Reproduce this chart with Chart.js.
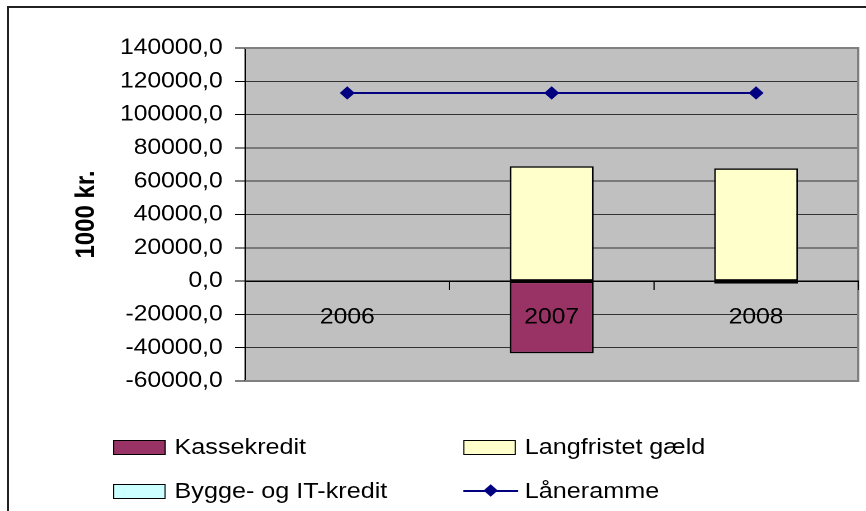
<!DOCTYPE html>
<html>
<head>
<meta charset="utf-8">
<script src="https://cdn.jsdelivr.net/npm/chart.js@4/dist/chart.umd.min.js"></script>
<style>
    html, body { margin: 0; padding: 0; background: #fff; overflow: hidden; }
    body { position: relative; width: 866px; height: 511px; }
    #frame { position: absolute; left: 7px; top: 6px; right: -40px; bottom: -40px; border-top: 2px solid #222; border-left: 2px solid #222; }
    #wrap { position: absolute; left: 0; top: 0; width: 774px; height: 511px; transform: scaleX(1.119); transform-origin: 0 0; }
    #chart { position: absolute; left: 0; top: 0; }
    .legend-item { position: absolute; display: flex; align-items: center; height: 30px; font-family: "Liberation Sans", Arial, sans-serif; font-size: 22.5px; color: #000; white-space: nowrap; }
    .swatch { width: 47px; height: 15px; border: 1.5px solid #000; box-sizing: border-box; margin-right: 8px; }
    .line-mark { position: relative; width: 49px; height: 15px; margin-right: 6px; }
    .line-mark .ln { position: absolute; left: 0; right: 0; top: 6.5px; height: 2px; background: #000080; }
    .line-mark .dm { position: absolute; left: 20px; top: 2px; width: 9px; height: 9px; background: #000080; transform: rotate(45deg); }
</style>
</head>
<body>
<div id="frame"></div>
<div id="wrap">
    <canvas id="chart" width="774" height="511"></canvas>
    <div id="legend"></div>
</div>
<script>
// data (1000 kr.)
const years = ['2006', '2007', '2008'];
const kassekredit = [null, -43300, -1500];
const langfristetGaeld = [null, 69000, 67700];
const byggeItKredit = [null, null, null];
const laaneramme = [113000, 113000, 113000];

const yMin = -60000;
const yMax = 140000;
const yStep = 20000;

const fontFamily = '"Liberation Sans", Arial, sans-serif';

// grey plot area with border on top/right/bottom
const plotArea = {
    id: 'plotArea',
    beforeDraw(chart) {
        const a = chart.chartArea;
        const ctx = chart.ctx;
        ctx.save();
        ctx.fillStyle = '#c0c0c0';
        ctx.fillRect(a.left, a.top, a.right - a.left, a.bottom - a.top);
        ctx.restore();
    },
    beforeDatasetsDraw(chart) {
        const a = chart.chartArea;
        const ctx = chart.ctx;
        ctx.save();
        ctx.strokeStyle = '#808080';
        ctx.lineWidth = 2;
        ctx.beginPath();
        ctx.moveTo(a.left, a.top);
        ctx.lineTo(a.right, a.top);
        ctx.lineTo(a.right, a.bottom);
        ctx.lineTo(a.left, a.bottom);
        ctx.stroke();
        ctx.restore();
    }
};

const chart = new Chart(document.getElementById('chart'), {
    type: 'bar',
    data: {
        labels: years,
        datasets: [
            {
                type: 'line',
                label: 'Låneramme',
                data: laaneramme,
                stack: 'line',
                order: 0,
                borderColor: '#000080',
                borderWidth: 2,
                pointStyle: 'rectRot',
                pointRadius: 6,
                pointBackgroundColor: '#000080',
                pointBorderColor: '#000080',
                pointBorderWidth: 1
            },
            {
                label: 'Kassekredit',
                data: kassekredit,
                stack: 'bars',
                order: 1,
                backgroundColor: '#993366',
                borderColor: '#000',
                borderWidth: 1.5,
                borderSkipped: false
            },
            {
                label: 'Langfristet gæld',
                data: langfristetGaeld,
                stack: 'bars',
                order: 1,
                backgroundColor: '#ffffcc',
                borderColor: '#000',
                borderWidth: 1.5,
                borderSkipped: false
            },
            {
                label: 'Bygge- og IT-kredit',
                data: byggeItKredit,
                stack: 'bars',
                order: 1,
                backgroundColor: '#ccffff',
                borderColor: '#000',
                borderWidth: 1.5,
                borderSkipped: false
            }
        ]
    },
    options: {
        responsive: false,
        devicePixelRatio: 2,
        animation: false,
        events: [],
        datasets: {
            bar: { categoryPercentage: 0.41, barPercentage: 1 }
        },
        layout: {
            padding: { left: 0, top: 48, right: 6, bottom: 130 }
        },
        plugins: {
            legend: { display: false },
            tooltip: { enabled: false }
        },
        scales: {
            x: {
                type: 'category',
                stacked: true,
                position: { y: 0 },
                grid: {
                    drawOnChartArea: false,
                    drawTicks: true,
                    tickLength: 8,
                    color: '#000',
                    offset: true,
                    z: 1
                },
                border: { display: true, color: '#000', width: 1.5, z: 1 },
                ticks: {
                    color: '#000',
                    padding: 15,
                    maxRotation: 0,
                    autoSkip: false,
                    z: 1,
                    font: { family: fontFamily, size: 22 }
                }
            },
            y: {
                stacked: true,
                min: yMin,
                max: yMax,
                afterFit(scale) {
                    scale.width = 219;
                },
                grid: {
                    color: '#333',
                    lineWidth: 1,
                    drawTicks: true,
                    tickLength: 9,
                    tickColor: '#000'
                },
                border: { display: true, color: '#000', width: 1.5 },
                ticks: {
                    stepSize: yStep,
                    color: '#000',
                    padding: 11,
                    font: { family: fontFamily, size: 22 },
                    callback: function(value) {
                        return value.toFixed(1).replace('.', ',');
                    }
                },
                title: {
                    display: true,
                    text: '1000 kr.',
                    color: '#000',
                    padding: { top: 63, bottom: 0 },
                    font: { family: fontFamily, size: 24, weight: 'bold' }
                }
            }
        }
    },
    plugins: [plotArea]
});

// legend in two columns, built from the datasets
const legendOrder = ['Kassekredit', 'Langfristet gæld', 'Bygge- og IT-kredit', 'Låneramme'];
const colLeft = [101, 414];
const rowMid = [447, 491];
const legend = document.getElementById('legend');

legendOrder.forEach(function(name, i) {
    const ds = chart.data.datasets.find(d => d.label === name);
    const item = document.createElement('div');
    item.className = 'legend-item';
    item.style.left = colLeft[i % 2] + 'px';
    item.style.top = (rowMid[Math.floor(i / 2)] - 15) + 'px';

    let mark;
    if (ds.type === 'line') {
        mark = document.createElement('div');
        mark.className = 'line-mark';
        mark.innerHTML = '<div class="ln"></div><div class="dm"></div>';
    } else {
        mark = document.createElement('div');
        mark.className = 'swatch';
        mark.style.background = ds.backgroundColor;
    }
    const text = document.createElement('span');
    text.textContent = ds.label;

    item.appendChild(mark);
    item.appendChild(text);
    legend.appendChild(item);
});
</script>
</body>
</html>
